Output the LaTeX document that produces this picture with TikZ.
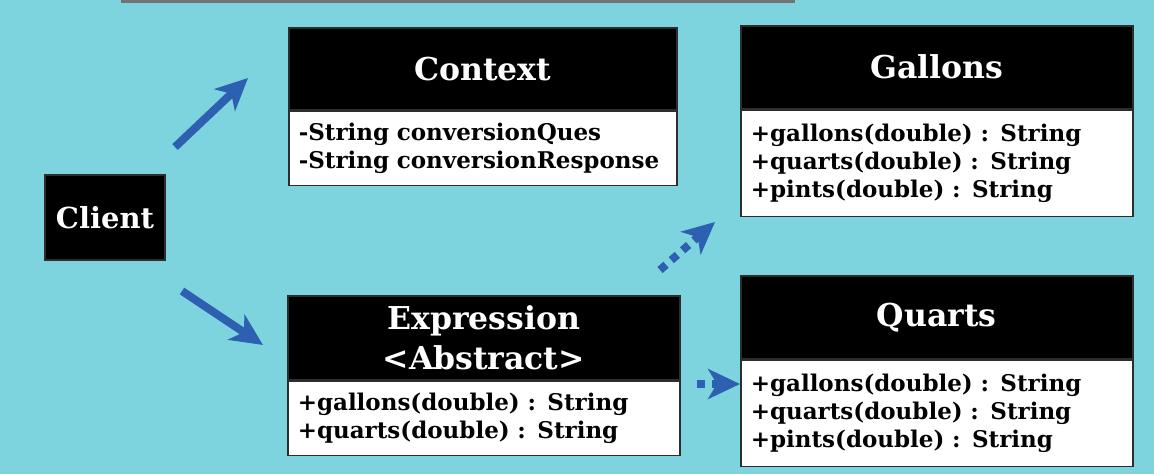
\documentclass[tikz,border=0pt]{standalone}
\usepackage{fontspec}
\setmainfont{DejaVu Serif}
\usetikzlibrary{positioning,arrows.meta}

\definecolor{slide}{RGB}{125,212,222}
\definecolor{arrowblue}{RGB}{46,96,178}
\definecolor{edge}{RGB}{45,45,45}

\tikzset{
  head/.style={draw=edge, line width=1.5pt, fill=black, text=white,
    font=\bfseries\fontsize{31.5}{40}\selectfont, inner sep=0pt, align=center},
  body/.style={draw=edge, line width=1.5pt, fill=white, text=black,
    font=\bfseries\fontsize{23}{28}\selectfont, inner xsep=10pt, inner ysep=0pt, align=left},
  link/.style={arrowblue, line width=8pt, -{Stealth[length=32pt,width=30pt,inset=9pt]}},
  dots/.style={link, dash pattern=on 8pt off 7pt}
}

\begin{document}
\begin{tikzpicture}[x=1pt,y=-1pt]
        % Slide
        \fill[slide] (0,0) rectangle (1154,474);
        \fill[black!55] (121,0) rectangle (795,3);

        % Client
        \node[fill=black, draw=edge, line width=1.5pt, text=white, font=\bfseries\fontsize{29}{32}\selectfont,
          minimum width=120pt, minimum height=85pt] (client) at (105,217.5) {Client};

        % Context
        \node[head, minimum width=388pt, minimum height=82pt, anchor=north west] (ctxHead) at (288,27) {Context};
        \node[body, text width=368pt, minimum height=74pt, below=0pt of ctxHead] (ctxBody)
          {-String conversionQues\\-String conversionResponse};

        % Expression
        \node[head, minimum width=392pt, minimum height=84pt, anchor=north west] (expHead) at (287,295)
          {Expression\\\textless Abstract\textgreater};
        \node[body, text width=372pt, minimum height=74pt, below=0pt of expHead] (expBody)
          {+gallons(double) : String\\+quarts(double) : String};

        % Gallons
        \node[head, minimum width=392pt, minimum height=83pt, anchor=north west] (galHead) at (740,25) {Gallons};
        \node[body, text width=372pt, minimum height=106pt, below=0pt of galHead] (galBody)
          {+gallons(double) : String\\+quarts(double) : String\\+pints(double) : String};

        % Quarts
        \node[head, minimum width=392pt, minimum height=83pt, anchor=north west] (qtHead) at (740,275) {Quarts};
        \node[body, text width=372pt, minimum height=106pt, below=0pt of qtHead] (qtBody)
          {+gallons(double) : String\\+quarts(double) : String\\+pints(double) : String};

        % Arrow ends
        \coordinate (toCtx) at (175,147);
        \coordinate (toCtxTip) at (248,78);
        \coordinate (toExp) at (182,291);
        \coordinate (toExpTip) at (263,345);
        \coordinate (toGal) at (660,270);
        \coordinate (toGalTip) at (715,222);
        \coordinate (toQt) at (697,384);

        % Arrows
        \draw[link] (toCtx) -- (toCtxTip);
        \draw[link] (toExp) -- (toExpTip);
        \draw[dots] (toGal) -- (toGalTip);
        \draw[dots] (toQt) -- (qtBody.west |- toQt);
    \end{tikzpicture}
\end{document}
